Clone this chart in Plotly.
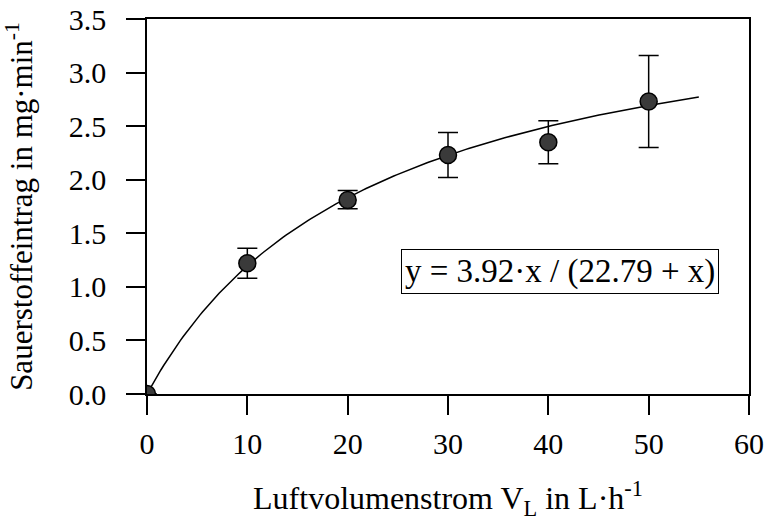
import numpy as np
import plotly.graph_objects as go

# Measured oxygen input vs. air flow rate
flow = [0, 10, 20, 30, 40, 50]
oxygen = [0.0, 1.22, 1.81, 2.23, 2.35, 2.73]
err_plus = [0.0, 0.14, 0.09, 0.21, 0.20, 0.43]
err_minus = [0.0, 0.14, 0.08, 0.21, 0.20, 0.43]

# Saturation fit parameters y = a*x / (b + x)
fit_a = 3.92
fit_b = 22.79
fit_x_max = 55

x_fit = np.linspace(0, fit_x_max, 200)
y_fit = fit_a * x_fit / (fit_b + x_fit)

FONT = "Liberation Serif, Times New Roman, serif"

fig = go.Figure()
fig.add_trace(go.Scatter(
    x=x_fit, y=y_fit, mode="lines",
    line=dict(color="black", width=1.5),
    hoverinfo="skip", showlegend=False,
))
fig.add_trace(go.Scatter(
    x=flow, y=oxygen, mode="markers",
    marker=dict(size=17, color="#3a3a3a", line=dict(color="black", width=1.5)),
    error_y=dict(type="data", symmetric=False, array=err_plus, arrayminus=err_minus,
                 color="black", thickness=1.5, width=10),
    showlegend=False,
))

fig.add_annotation(
    x=41.2, y=1.14, xref="x", yref="y",
    text="y = 3.92·x / (22.79 + x)",
    showarrow=False,
    font=dict(family=FONT, size=33, color="black"),
    bordercolor="black", borderwidth=1, borderpad=3, bgcolor="white",
)

axis_common = dict(
    showgrid=False, zeroline=False, automargin=False,
    showline=True, linecolor="black", linewidth=1.5, mirror=True,
    ticks="outside", ticklen=19, tickwidth=1.5, tickcolor="black",
    tickfont=dict(family=FONT, size=30, color="black"),
)

fig.update_xaxes(
    range=[0, 60], tickvals=[0, 10, 20, 30, 40, 50, 60],
    ticklabelstandoff=3,
    title=dict(text="Luftvolumenstrom V<sub>L</sub> in L·h<sup>-1</sup>",
               font=dict(family=FONT, size=32, color="black"), standoff=28),
    **axis_common,
)
fig.update_yaxes(
    range=[0, 3.5], tickvals=[0, 0.5, 1.0, 1.5, 2.0, 2.5, 3.0, 3.5],
    tickformat=".1f", ticklabelstandoff=14,
    title=dict(text="Sauerstoffeintrag in mg·min<sup>-1</sup>",
               font=dict(family=FONT, size=31, color="black"), standoff=28),
    **axis_common,
)

fig.update_layout(
    width=766, height=529,
    margin=dict(l=147, r=17, t=19, b=135),
    plot_bgcolor="white", paper_bgcolor="white",
    font=dict(family=FONT, color="black"),
)

fig.write_html("out.html")
